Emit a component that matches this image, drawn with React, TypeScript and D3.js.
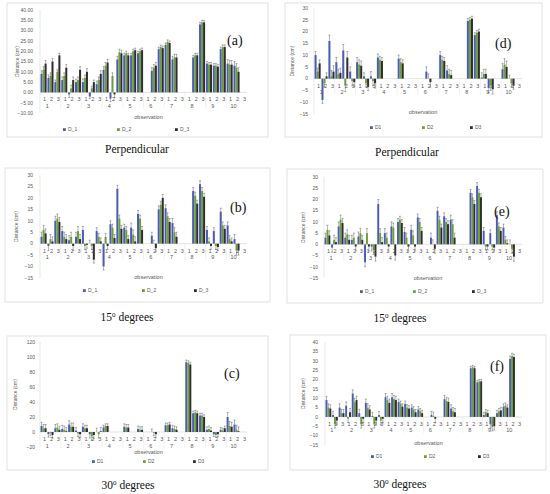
import React from "react";
import { scaleBand, scaleLinear, range, format } from "d3";

const observations = ["1", "2", "3", "4", "5", "6", "7", "8", "9", "10"];
const positions = ["1", "2", "3"];
const seriesKeys = ["D1", "D2", "D3"];
const seriesColors = ["#4a5cb4", "#6e9e3c", "#2e2e2e"];

type V = number | null;

// (a) perpendicular
const aD1: V[] = [9, 7, 5, 6, -1, 5, 5, -2, 4, 11, -3, 16, 18, 18, 19, null, 10.5, 21, 23, 16, null, null, 17, 33, 14, 13, 21, 14, 13, null];
const aD2: V[] = [11, 8, 10, 8, 2, 6, 7, 2, 6, 13, 8, 19.5, 19, 20, 20, null, 12, 22, 24.5, 17, null, null, 18, 34, 13.5, 13, 22, 13.5, 12, null];
const aD3: V[] = [14, 15, 18, 12, 6, 11, 10, 5, 9, 14.5, -1, 19, 18, 20.5, 20.5, null, 13, 21.5, 24, 17, null, null, 18, 34, 13.5, 12.5, 22, 13.5, 10, null];
const aErr: number[] = [1.5, 1.5, 1, 1.5, 1.5, 1.5, 1.5, 1, 1.5, 1.5, 1.5, 1.5, 1, 1, 1, 0, 1.5, 1, 1, 1.5, 0, 0, 1, 1, 1, 1, 1, 2, 2, 0];

// (d) perpendicular
const dD1: V[] = [10, -9, 16, 7, 12, 3, 7, 1, 1, 9, null, null, 8.5, null, null, null, 3, null, 10, 3.5, null, null, 24.5, 18.5, 0.5, -4, null, 4, 0, null];
const dD2: V[] = [3, -2, 1, 2, -3, -1, 6, -2, -1, 8, null, null, 7, null, null, null, 0, null, 8, 2, null, null, 25, 19.5, 2, -3, null, 6, -2, null];
const dD3: V[] = [6.5, 1, 3, 2.5, 9, -1.5, 5.5, -3.5, -2, 7.5, null, null, 6.5, null, null, null, -1.5, null, 7.5, 1.5, null, null, 25.5, 20, 2, -4.5, null, 5, -3, null];
const dErr: number[] = [1.5, 1.5, 2.5, 2, 2.5, 2, 2, 1.5, 2, 1.5, 0, 0, 1.5, 0, 0, 0, 2, 0, 1.5, 2, 0, 0, 1, 1, 2, 2, 0, 2.5, 1.5, 0];

// (b) 15 degrees
const bD1: V[] = [3, -1, 10, 5.5, 1.5, 3, 6, 0, 5.5, -10, 8.5, 24, 7, 7, 13, null, 3.5, 15, 15.5, 9, null, null, 23, 26, 6, 5.5, 14, 8, 2, null];
const bD2: V[] = [6, 2, 11, 3, 3, 5.5, -1, -1, 3, 3, 7, 11, 6, 4, 11, null, 0, 17, 12, 5, null, null, 21, 23, 1, -1, 8, 2, -3, null];
const bD3: V[] = [4.5, 1, 9.5, 2, -1, 2, -0.5, -7, 1, -1, 2.5, 6.5, 2, 1, 6, null, -2, 20, 9.5, 3, null, null, 17.5, 20.5, -1, -1.5, 6.5, 1, -3, null];
const bErr: number[] = [2, 2, 2, 2, 2, 2, 1.5, 1.5, 1.5, 1.5, 1.5, 1.5, 1.5, 2, 1.5, 0, 1.5, 1.5, 1.5, 2, 0, 0, 1.5, 1.5, 1.5, 1.5, 1.5, 1.5, 2, 0];

// (e) 15 degrees
const eD1: V[] = [3, -1.5, 8, 3, 2, 3.5, -8, -1, 18, 5, 8, 10, 5.5, 6.5, 12, null, 3, 15, 12.5, 11, null, null, 23, 26, 6, 5, 13, 7.5, 0, null];
const eD2: V[] = [6.5, 2, 11, 4.5, 3, 5, 5, -2.5, 5, 3, 7.5, 11, 3, 4, 10, null, 0, 11, 10, 9, null, null, 21, 23, -1, -1, 8, 2, -2, null];
const eD3: V[] = [4, 1, 9.5, 2, -1, 2, -1, -5.5, 1, -1, -5, 9.5, -1, -1, 6, null, -2, 7.5, 9, 3, null, null, 18, 21, -1, -1.5, 6, 0.5, -5.5, null];
const eErr: number[] = [2, 2, 2, 2, 2, 2, 2, 2, 2, 2, 2, 1.5, 2, 2, 1.5, 0, 2, 1.5, 1.5, 2, 0, 0, 1.5, 1.5, 1.5, 1.5, 1.5, 1.5, 2, 0];

// (c) 30 degrees
const cD1: V[] = [8, -3, 5, 4, 10, 2, 7, -3, 0, 6, null, null, 7, null, 4, null, 0, null, 9, 5, null, 93, 25, 22, 3, -3, 3, 20, 10, null];
const cD2: V[] = [5, -1, 6, 3, 7, -2, 5, -6, -3, 8, null, null, 6, null, 3, null, -1, null, 9, 4, null, 92, 26, 22, 4, -4, 2, 8, 3, null];
const cD3: V[] = [5, -4, 3, 1, 7, -3, 5, -4, 1, 8, null, null, 6, null, 3, null, -3, null, 10, 3, null, 90, 25, 20, 2, -3, 5, 7, 1, null];
const cErr: number[] = [5, 4, 5, 5, 5, 4, 4, 5, 5, 3, 0, 0, 4, 0, 4, 0, 4, 0, 3, 4, 0, 3, 3, 3, 4, 3, 3, 6, 6, 0];

// (f) 30 degrees
const fD1: V[] = [9, 1, 5, 6, 12.5, 2, 7.5, 0.5, 1, 10.5, 10.5, 8, 7, 5, 4, null, 1, null, 9.5, 4.5, null, null, 26, 18.5, 1, -4, 2, 5.5, 31, null];
const fD2: V[] = [5, -4, 2, -1, 8, -4, 5, -4, -2, 9, 9.5, 7, 5, 4, 3, null, 0.5, null, 8.5, 3, null, null, 26.5, 19, 2.5, -5.5, 3, 6, 32.5, null];
const fD3: V[] = [4.5, -2, 2, 2.5, 9, -1, 4, -2, -1, 7.5, 9, 5.5, 4.5, 2.5, 2, null, -1, null, 8, 2.5, null, null, 26, 19, 2, -5, 3.5, 5, 32, null];
const fErr: number[] = [2, 2, 2, 2, 2, 2, 2, 2, 2, 2, 2, 1.5, 1.5, 1.5, 1.5, 0, 2, 0, 2, 2, 0, 0, 1, 1, 1.5, 2, 1.5, 1.5, 1.5, 0];

const categories = observations.flatMap((o) => positions.map((p) => `${o}-${p}`));

interface Panel {
  letter: string;
  frame: [number, number, number, number];
  axisX: number;
  right: number;
  domain: [number, number];
  step: number;
  top: number;
  bottom: number;
  fmt: string;
  labelX: number;
  yTitleX: number;
  obsTitleY: number;
  legend: string[];
  legendX: number[];
  legendY: number;
  letterPos: [number, number];
  caption: string;
  sup?: boolean;
  capX: number;
  capY: number;
  values: V[][];
  err: number[];
}

const panels: Panel[] = [
  { letter: "(a)", frame: [7, 3, 268, 137], axisX: 40, right: 247, domain: [-10, 40], step: 5, top: 10, bottom: 113, fmt: ".2f", labelX: 33, yTitleX: 19, obsTitleY: 119, legend: ["D_1", "D_2", "D_3"], legendX: [63, 117, 175], legendY: 131, letterPos: [227, 45], caption: "Perpendicular", capX: 137, capY: 153, values: [aD1, aD2, aD3], err: aErr },
  { letter: "(d)", frame: [285, 3, 542, 137], axisX: 314, right: 522, domain: [-15, 30], step: 5, top: 8, bottom: 114, fmt: "d", labelX: 308, yTitleX: 294, obsTitleY: 114, legend: ["D1", "D2", "D3"], legendX: [370, 422, 470], legendY: 129, letterPos: [495, 48], caption: "Perpendicular", capX: 407, capY: 156, values: [dD1, dD2, dD3], err: dErr },
  { letter: "(b)", frame: [5, 168, 270, 302], axisX: 40, right: 247, domain: [-15, 30], step: 5, top: 175, bottom: 278, fmt: "d", labelX: 33, yTitleX: 18, obsTitleY: 279, legend: ["D_1", "D_2", "D_3"], legendX: [83, 142, 194], legendY: 292, letterPos: [230, 212], caption: "15", sup: true, capX: 127, capY: 321, values: [bD1, bD2, bD3], err: bErr },
  { letter: "(e)", frame: [287, 169, 543, 303], axisX: 324, right: 522, domain: [-15, 30], step: 5, top: 177, bottom: 278, fmt: "d", labelX: 318, yTitleX: 305, obsTitleY: 280, legend: ["D_1", "D_2", "D_3"], legendX: [360, 413, 472], legendY: 293, letterPos: [494, 216], caption: "15", sup: true, capX: 400, capY: 322, values: [eD1, eD2, eD3], err: eErr },
  { letter: "(c)", frame: [7, 336, 268, 470], axisX: 40, right: 247, domain: [-20, 120], step: 20, top: 342, bottom: 447, fmt: "d", labelX: 35, yTitleX: 17, obsTitleY: 454, legend: ["D1", "D2", "D3"], legendX: [92, 143, 193], legendY: 463, letterPos: [224, 378], caption: "30", sup: true, capX: 128, capY: 489, values: [cD1, cD2, cD3], err: cErr },
  { letter: "(f)", frame: [290, 335, 546, 470], axisX: 325, right: 522, domain: [-15, 40], step: 5, top: 342, bottom: 445, fmt: "d", labelX: 318, yTitleX: 305, obsTitleY: 445, legend: ["D1", "D2", "D3"], legendX: [371, 424, 478], legendY: 458, letterPos: [490, 371], caption: "30", sup: true, capX: 400, capY: 488, values: [fD1, fD2, fD3], err: fErr },
];

const axisFont = "'Liberation Sans', Arial, sans-serif";
const serifFont = "'Liberation Serif', 'Times New Roman', serif";
const gray = "#595959";

const ChartPanel: React.FC<{ p: Panel }> = ({ p }) => {
  const y = scaleLinear().domain(p.domain).range([p.bottom, p.top]);
  const x = scaleBand().domain(categories).range([p.axisX, p.right]).paddingInner(0.12).paddingOuter(0.08);
  const xs = scaleBand().domain(seriesKeys).range([0, x.bandwidth()]).padding(0);
  const ticks = range(p.domain[0], p.domain[1] + 0.001, p.step);
  const fmt = format(p.fmt);
  const y0 = y(0);
  const obsW = (p.right - p.axisX) / observations.length;
  const [fx0, fy0, fx1, fy1] = p.frame;
  const midY = (p.top + p.bottom) / 2;

  return (
    <g>
      <rect x={fx0} y={fy0} width={fx1 - fx0} height={fy1 - fy0} fill="#fff" stroke="#d9d9d9" strokeWidth={0.8} />
      {ticks.map((t) => (
        <text key={t} x={p.labelX} y={y(t) + 1.8} fontSize={5} fill={gray} textAnchor="end" fontFamily={axisFont}>
          {fmt(t)}
        </text>
      ))}
      <line x1={p.axisX} x2={p.axisX} y1={p.top} y2={p.bottom} stroke="#d9d9d9" strokeWidth={0.6} />
      <line x1={p.axisX} x2={p.right} y1={y0} y2={y0} stroke="#d9d9d9" strokeWidth={0.7} />
      <text transform={`translate(${p.yTitleX},${midY}) rotate(-90)`} fontSize={5} fill={gray} textAnchor="middle" fontFamily={axisFont}>
        Distance (cm)
      </text>
      {observations.map((o, i) =>
        i > 0 ? (
          <line key={`s${o}`} x1={p.axisX + i * obsW} x2={p.axisX + i * obsW} y1={y0} y2={y0 + 16} stroke="#e3e3e3" strokeWidth={0.5} />
        ) : null
      )}
      {seriesKeys.map((s, si) =>
        p.values[si].map((v, ci) => {
          if (v === null) return null;
          const bx = (x(categories[ci]) ?? 0) + (xs(s) ?? 0);
          const bw = xs.bandwidth();
          const e = p.err[ci];
          const tip = v >= 0 ? v + e : v - e;
          const cx = bx + bw / 2;
          return (
            <g key={`${s}-${ci}`}>
              <rect x={bx} y={Math.min(y(v), y0)} width={bw} height={Math.abs(y(v) - y0)} fill={seriesColors[si]} />
              <line x1={cx} x2={cx} y1={y(v)} y2={y(tip)} stroke="#404040" strokeWidth={0.4} />
              <line x1={cx - 1} x2={cx + 1} y1={y(tip)} y2={y(tip)} stroke="#404040" strokeWidth={0.4} />
            </g>
          );
        })
      )}
      {categories.map((c, ci) => (
        <text key={`p${c}`} x={(x(c) ?? 0) + x.bandwidth() / 2 + 1} y={y0 + 9} fontSize={5.5} fill={gray} textAnchor="middle" fontFamily={axisFont}>
          {positions[ci % 3]}
        </text>
      ))}
      {observations.map((o, i) => (
        <text key={`o${o}`} x={p.axisX + i * obsW + obsW * 0.35} y={y0 + 15.5} fontSize={5.5} fill={gray} textAnchor="middle" fontFamily={axisFont}>
          {o}
        </text>
      ))}
      <text x={(p.axisX + p.right) / 2 + 5} y={p.obsTitleY} fontSize={5.5} fill={gray} textAnchor="middle" fontFamily={axisFont}>
        observation
      </text>
      {p.legend.map((l, i) => (
        <g key={l}>
          <rect x={p.legendX[i]} y={p.legendY - 2.8} width={2.8} height={2.8} fill={seriesColors[i]} />
          <text x={p.legendX[i] + 5} y={p.legendY} fontSize={5} fill={gray} fontFamily={axisFont}>
            {l}
          </text>
        </g>
      ))}
      <text x={p.letterPos[0]} y={p.letterPos[1]} fontSize={14} fill="#111" fontFamily={serifFont}>
        {p.letter}
      </text>
      <text x={p.capX} y={p.capY} fontSize={11.5} fill="#111" textAnchor="middle" fontFamily={serifFont}>
        {p.sup ? (
          <>
            {p.caption}
            <tspan fontSize={7} dy={-4.5}>0</tspan>
            <tspan dy={4.5}> degrees</tspan>
          </>
        ) : (
          p.caption
        )}
      </text>
    </g>
  );
};

export default function App() {
  return (
    <svg width={550} height={494} style={{ position: "absolute", left: 0, top: 0 }}>
      <rect width={550} height={494} fill="#fff" />
      {panels.map((p) => (
        <ChartPanel key={p.letter} p={p} />
      ))}
    </svg>
  );
}
